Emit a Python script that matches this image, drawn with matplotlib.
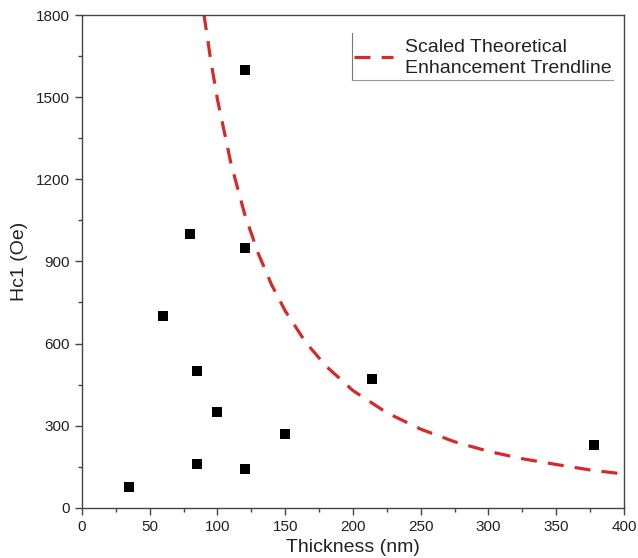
import matplotlib
matplotlib.use("Agg")
import matplotlib.pyplot as plt
from matplotlib.ticker import MultipleLocator
from matplotlib.lines import Line2D

plt.rcParams['font.family'] = ['Liberation Sans', 'DejaVu Sans']

# measured data points
thickness = [35, 85, 120, 150, 80, 120, 60, 85, 100, 120, 214, 378]
hc1 = [75, 160, 140, 270, 1000, 950, 700, 500, 350, 1600, 470, 230]

# trendline
trend_x = [90, 95, 100, 110, 120, 130, 140, 150, 165, 180, 200, 225, 250, 275, 300, 325, 350, 375, 400]
trend_y = [1803, 1636, 1491, 1257, 1074, 930, 814, 719, 605, 518, 428, 347, 287, 241, 206, 179, 158, 138, 123]

xticks = [0, 50, 100, 150, 200, 250, 300, 350, 400]
yticks = [0, 300, 600, 900, 1200, 1500, 1800]

fig = plt.figure(figsize=(6.38, 5.58), dpi=100)
ax = fig.add_axes([0.1285, 0.0901, 0.978 - 0.1285, 0.973 - 0.0901])

ax.plot(trend_x, trend_y, color='#d42a2a', lw=2.3, dashes=(5, 3.5), zorder=2)
ax.scatter(thickness, hc1, marker='s', s=42, color='black', zorder=3, linewidths=0)

ax.set_xlim(0, 400)
ax.set_ylim(0, 1800)
ax.set_xticks(xticks)
ax.set_yticks(yticks)
ax.xaxis.set_minor_locator(MultipleLocator(25))
ax.yaxis.set_minor_locator(MultipleLocator(150))
ax.tick_params(which='major', direction='out', length=5, width=1, colors='#444444',
               labelcolor='#222222', labelsize=11)
ax.tick_params(which='minor', direction='out', length=3, width=1, colors='#444444')
for s in ax.spines.values():
    s.set_color('#444444')
    s.set_linewidth(1)

ax.set_xlabel('Thickness (nm)', fontsize=14, color='#222222', labelpad=4)
ax.set_ylabel('Hc1 (Oe)', fontsize=14, color='#222222', labelpad=6)

handle = Line2D([], [], color='#d42a2a', lw=2.3, dashes=(5, 3.5))
leg = ax.legend([handle], ['Scaled Theoretical\nEnhancement Trendline'],
                loc='upper left', bbox_to_anchor=(0.502, 0.952), frameon=False,
                borderpad=0, borderaxespad=0,
                fontsize=14, handlelength=2.0, handletextpad=0.6, labelspacing=0.2)
for t in leg.get_texts():
    t.set_color('#222222')
    t.set_linespacing(1.3)

# partial legend frame (left and bottom edges)
ax.plot([0.498, 0.498], [0.868, 0.963], transform=ax.transAxes, color='#777777', lw=0.8, clip_on=False)
ax.plot([0.498, 0.98], [0.868, 0.868], transform=ax.transAxes, color='#999999', lw=0.8, clip_on=False)

fig.savefig('out.png', dpi=100)
